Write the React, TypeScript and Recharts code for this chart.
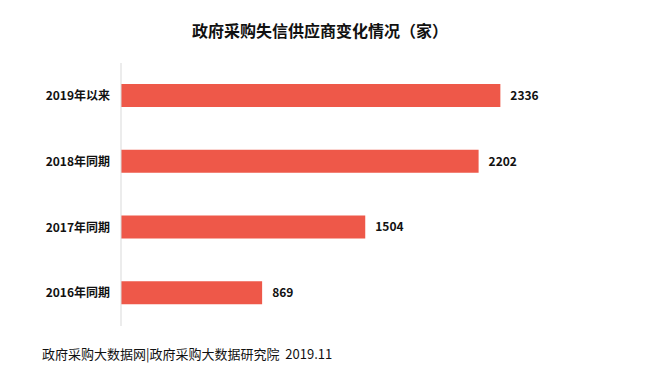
import React from 'react';
import { BarChart, Bar, XAxis, YAxis, LabelList } from 'recharts';

const categories = ['2019年以来', '2018年同期', '2017年同期', '2016年同期'];
const counts = [2336, 2202, 1504, 869];

const data = categories.map((name, i) => ({ name, value: counts[i] }));

const font = '"Noto Sans CJK SC", "Noto Sans", sans-serif';

const App: React.FC = () => {
  return (
    <div
      style={{
        position: 'absolute',
        left: 0,
        top: 0,
        width: 646,
        height: 389,
        background: '#fff',
        fontFamily: font,
      }}
    >
      <div
        style={{
          position: 'absolute',
          top: 18,
          left: 0,
          width: 640,
          textAlign: 'center',
          fontSize: 16,
          fontWeight: 600,
          color: '#111',
          lineHeight: '24px',
        }}
      >
        政府采购失信供应商变化情况（家）
      </div>
      <BarChart
        width={646}
        height={389}
        data={data}
        layout="vertical"
        margin={{ top: 63, right: 119, bottom: 63, left: 21 }}
        barCategoryGap={21}
      >
        <XAxis type="number" domain={[0, 2500]} hide />
        <YAxis
          type="category"
          dataKey="name"
          width={100}
          axisLine={{ stroke: '#d9d9d9' }}
          tickLine={false}
          tickMargin={5}
          tick={{ fontSize: 12, fill: '#111', fontWeight: 600, fontFamily: font }}
        />
        <Bar dataKey="value" fill="#ee5849" barSize={23} isAnimationActive={false}>
          <LabelList
            dataKey="value"
            position="right"
            offset={10}
            style={{ fontSize: 12, fontWeight: 'bold', fill: '#111', fontFamily: font }}
          />
        </Bar>
      </BarChart>
      <div
        style={{
          position: 'absolute',
          left: 42,
          top: 344,
          fontSize: 13,
          color: '#111',
          lineHeight: '20px',
          whiteSpace: 'pre',
        }}
      >
        政府采购大数据网|政府采购大数据研究院  2019.11
      </div>
    </div>
  );
};

export default App;
